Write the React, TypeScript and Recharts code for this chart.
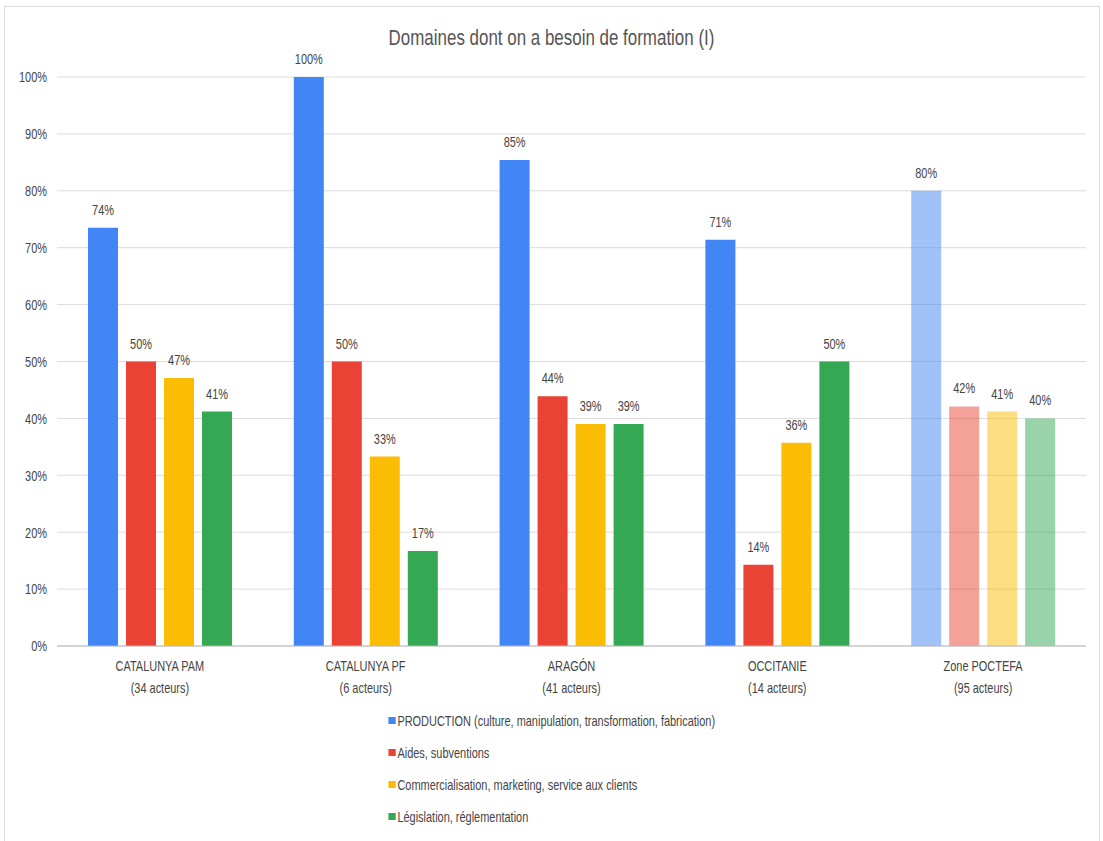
import { BarChart, Bar, XAxis, YAxis, CartesianGrid, Legend, LabelList, Cell } from 'recharts';

const categories = ['CATALUNYA PAM', 'CATALUNYA PF', 'ARAGÓN', 'OCCITANIE', 'Zone POCTEFA'];
const actors = ['(34 acteurs)', '(6 acteurs)', '(41 acteurs)', '(14 acteurs)', '(95 acteurs)'];
const production = [73.5, 100, 85.4, 71.4, 80];
const aides = [50, 50, 43.9, 14.3, 42.1];
const commercial = [47.1, 33.3, 39.0, 35.7, 41.2];
const legislation = [41.2, 16.7, 39.0, 50, 40.0];
const yTicks = [0, 10, 20, 30, 40, 50, 60, 70, 80, 90, 100];

const seriesList = [
  { key: 'production', name: 'PRODUCTION (culture, manipulation, transformation, fabrication)', color: '#4285F4' },
  { key: 'aides', name: 'Aides, subventions', color: '#EA4335' },
  { key: 'commercial', name: 'Commercialisation, marketing, service aux clients', color: '#FBBC04' },
  { key: 'legislation', name: 'Législation, réglementation', color: '#34A853' },
];

const data = categories.map((c, i) => ({
  name: c,
  production: production[i],
  aides: aides[i],
  commercial: commercial[i],
  legislation: legislation[i],
}));

// the reference text is squeezed horizontally, so scale Liberation Sans on x
const FONT = "'Liberation Sans', Arial, sans-serif";
const SQ = 0.73;
const FS = 15;
const TEXT = '#444';

const CategoryTick = ({ x, y, payload, index }: any) => (
  <g transform={`translate(${x},${y}) scale(${SQ},1)`}>
    <text textAnchor="middle" fill={TEXT} fontSize={FS} fontFamily={FONT}>
      <tspan x={0} dy={17.5}>{payload.value}</tspan>
      <tspan x={0} dy={22}>{actors[index]}</tspan>
    </text>
  </g>
);

const PercentTick = ({ x, y, payload }: any) => (
  <g transform={`translate(${x},${y}) scale(${SQ},1)`}>
    <text textAnchor="end" dy="0.355em" fill={TEXT} fontSize={FS} fontFamily={FONT}>
      {`${payload.value}%`}
    </text>
  </g>
);

const ValueLabel = ({ x, y, width, value }: any) => (
  <g transform={`translate(${x + width / 2},${y - 13}) scale(${SQ},1)`}>
    <text textAnchor="middle" fill={TEXT} fontSize={FS} fontFamily={FONT}>
      {`${Math.round(value)}%`}
    </text>
  </g>
);

const LegendBox = ({ payload }: any) => {
  const items = [...(payload || [])].sort(
    (a: any, b: any) =>
      seriesList.findIndex((s) => s.name === a.value) - seriesList.findIndex((s) => s.name === b.value)
  );
  return (
    <div style={{ display: 'inline-block', textAlign: 'left', transform: `scaleX(${SQ})` }}>
      {items.map((p: any) => (
        <div key={p.value} style={{ height: 32, display: 'flex', alignItems: 'center', fontFamily: FONT, fontSize: FS, color: TEXT }}>
          <span style={{ width: 7 / SQ, height: 7, background: p.color, marginRight: 2 / SQ, display: 'inline-block' }} />
          {p.value}
        </div>
      ))}
    </div>
  );
};

export default function App() {
  return (
    <div style={{ position: 'absolute', left: 0, top: 0, width: 1103, height: 841, background: '#fff' }}>
      <div style={{ position: 'absolute', left: 4, top: 6, width: 1094, height: 840, border: '1px solid #ddd' }} />
      <div
        style={{
          position: 'absolute',
          left: 0,
          top: 25,
          width: 1103,
          textAlign: 'center',
          fontFamily: FONT,
          fontSize: 22,
          color: '#555',
          zIndex: 2,
          transform: 'scaleX(0.77)',
        }}
      >
        Domaines dont on a besoin de formation (I)
      </div>
      <BarChart
        width={1103}
        height={841}
        data={data}
        margin={{ top: 77, right: 17, left: 0, bottom: 9 }}
        barSize={30}
        barGap={8}
      >
        <CartesianGrid vertical={false} stroke="#dcdcdc" />
        <XAxis
          dataKey="name"
          height={58}
          tickLine={false}
          axisLine={{ stroke: '#bbb' }}
          tick={<CategoryTick />}
          interval={0}
        />
        <YAxis
          width={57}
          domain={[0, 100]}
          ticks={yTicks}
          tickLine={false}
          axisLine={false}
          tickMargin={4}
          tick={<PercentTick />}
        />
        <Legend verticalAlign="bottom" align="center" layout="vertical" content={<LegendBox />} />
        {seriesList.map((s) => (
          <Bar key={s.key} dataKey={s.key} name={s.name} fill={s.color} isAnimationActive={false}>
            {data.map((d, i) => (
              <Cell key={i} fill={s.color} fillOpacity={i === data.length - 1 ? 0.5 : 1} />
            ))}
            <LabelList dataKey={s.key} content={<ValueLabel />} />
          </Bar>
        ))}
      </BarChart>
    </div>
  );
}
